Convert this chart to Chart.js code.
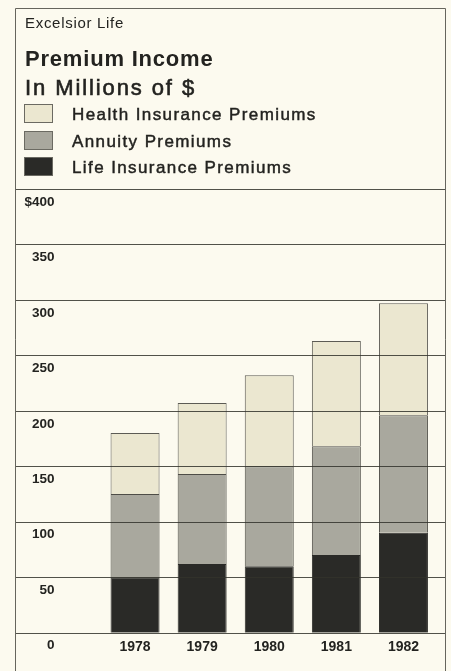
<!DOCTYPE html>
<html>
<head>
<meta charset="utf-8">
<title>Excelsior Life - Premium Income</title>
<script src="https://cdn.jsdelivr.net/npm/chart.js@4/dist/chart.umd.min.js"></script>
<style>
	html, body { margin: 0; padding: 0; background: #fcfaef; }
	canvas { display: block; }
</style>
</head>
<body>
<canvas id="premium-income-chart" width="451" height="671"></canvas>
<script>
// values, millions of $
var years = ['1978', '1979', '1980', '1981', '1982'];
var lifePremiums = [50, 62, 60, 70, 90];
var annuityPremiums = [75, 81, 90, 98, 106];
var healthPremiums = [55, 64, 82, 95, 101];
var yTickValues = [0, 50, 100, 150, 200, 250, 300, 350, 400];

(function () {
	'use strict';

	var FONT = "'Liberation Sans', Arial, Helvetica, sans-serif";
	var INK = '#232320';
	var frame = { left: 15, right: 445, top: 8 };

	// spacing + a hairline stroke to get the old phototype look
	function drawText(ctx, text, x, y, font, spacing, weight) {
		ctx.font = font;
		ctx.letterSpacing = (spacing || 0) + 'px';
		ctx.fillText(text, x, y);
		if (weight) {
			ctx.lineWidth = weight;
			ctx.strokeStyle = INK;
			ctx.strokeText(text, x, y);
		}
		ctx.letterSpacing = '0px';
	}

	// header, key, frame and full width rules like the printed original
	var printedFrame = {
		id: 'printedFrame',
		beforeDraw: function (chart) {
			var ctx = chart.ctx;
			ctx.save();
			ctx.fillStyle = '#fcfaef';
			ctx.fillRect(0, 0, chart.width, chart.height);

			ctx.fillStyle = INK;
			ctx.textBaseline = 'alphabetic';
			ctx.textAlign = 'left';
			drawText(ctx, 'Excelsior Life', 25, 28, '15px ' + FONT, 0.7);
			drawText(ctx, 'Premium Income', 25, 66, 'bold 22px ' + FONT, 0.8);
			drawText(ctx, 'In Millions of $', 25, 95, '22px ' + FONT, 1.9, 0.6);

			// key: top of the stack first
			var items = chart.data.datasets.slice().reverse();
			var baselines = [120, 147, 173];
			items.forEach(function (ds, i) {
				var b = baselines[i];
				ctx.fillStyle = ds.backgroundColor;
				ctx.fillRect(24, b - 16, 29, 19);
				ctx.strokeStyle = '#6b6a62';
				ctx.lineWidth = 1;
				ctx.strokeRect(24.5, b - 15.5, 28, 18);
				ctx.fillStyle = INK;
				drawText(ctx, ds.label, 72, b, '17px ' + FONT, 1.4, 0.45);
			});
			ctx.restore();
		},
		afterDatasetsDraw: function (chart) {
			var ctx = chart.ctx;
			var yScale = chart.scales.y;
			ctx.save();
			ctx.lineWidth = 1;
			ctx.strokeStyle = 'rgba(50, 50, 44, 0.85)';
			yScale.ticks.forEach(function (t) {
				var py = Math.round(yScale.getPixelForValue(t.value)) + 0.5;
				ctx.beginPath();
				ctx.moveTo(frame.left, py);
				ctx.lineTo(frame.right, py);
				ctx.stroke();
			});

			ctx.strokeStyle = '#66655d';
			ctx.beginPath();
			ctx.moveTo(frame.left + 0.5, chart.height);
			ctx.lineTo(frame.left + 0.5, frame.top + 0.5);
			ctx.lineTo(frame.right + 0.5, frame.top + 0.5);
			ctx.lineTo(frame.right + 0.5, chart.height);
			ctx.stroke();
			ctx.restore();
		}
	};

	var ctx = document.getElementById('premium-income-chart');

	new Chart(ctx, {
		type: 'bar',
		data: {
			labels: years,
			datasets: [{
				label: 'Life Insurance Premiums',
				data: lifePremiums,
				backgroundColor: '#2a2a27',
				borderColor: '#2a2a27',
				borderWidth: 1
			}, {
				label: 'Annuity Premiums',
				data: annuityPremiums,
				backgroundColor: '#a9a89e',
				borderColor: '#4e4d47',
				borderWidth: 1
			}, {
				label: 'Health Insurance Premiums',
				data: healthPremiums,
				backgroundColor: '#ebe7d0',
				borderColor: '#5c5b54',
				borderWidth: 1
			}]
		},
		options: {
			responsive: false,
			animation: false,
			layout: {
				padding: { left: 15, right: 14, top: 189, bottom: 0 }
			},
			datasets: {
				bar: {
					categoryPercentage: 1,
					barPercentage: 0.73
				}
			},
			scales: {
				x: {
					stacked: true,
					grid: { display: false, drawTicks: false },
					border: { display: false },
					ticks: {
						color: INK,
						padding: 6,
						font: { family: FONT, size: 14, weight: 'bold' }
					},
					afterFit: function (scale) {
						scale.height = 38.3;
					}
				},
				y: {
					stacked: true,
					min: 0,
					max: 400,
					grid: { display: false, drawTicks: false },
					border: { display: false },
					afterBuildTicks: function (scale) {
						scale.ticks = yTickValues.map(function (v) { return { value: v }; });
					},
					ticks: {
						color: INK,
						padding: 47,
						labelOffset: 13,
						autoSkip: false,
						font: { family: FONT, size: 13.5, weight: 'bold' },
						callback: function (value) {
							return value === 400 ? '$400' : value;
						}
					},
					afterFit: function (scale) {
						scale.width = 86.5;
						// the big tick padding is only for the label column, not the plot edges
						scale.paddingTop = 0;
						scale.paddingBottom = 0;
					}
				}
			},
			plugins: {
				legend: { display: false },
				title: { display: false }
			}
		},
		plugins: [printedFrame]
	});
})();
</script>
</body>
</html>
